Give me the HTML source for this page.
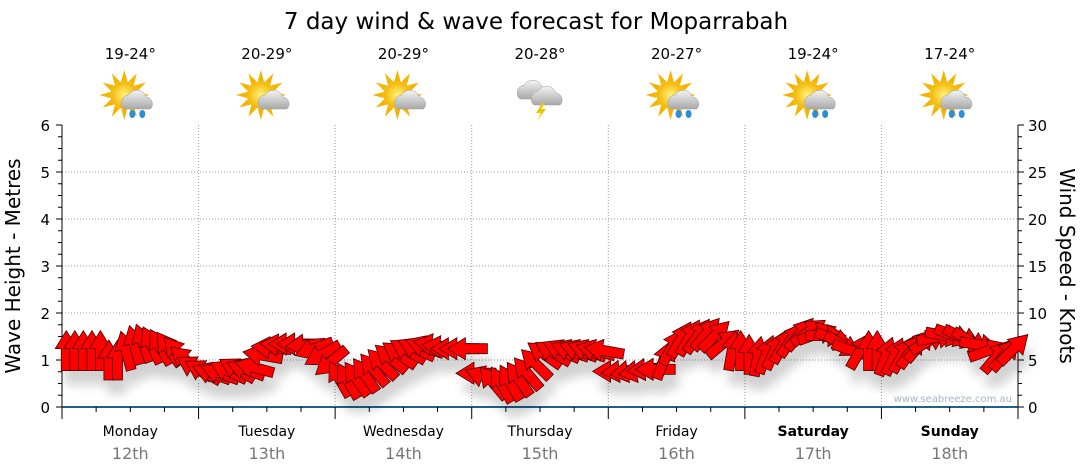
<!DOCTYPE html>
<html><head><meta charset="utf-8">
<style>
body{margin:0;background:#fff;font-family:"DejaVu Sans","Liberation Sans",sans-serif;}
svg{display:block}
</style></head>
<body>
<svg id="chart" width="1080" height="475" viewBox="0 0 1080 475" xmlns="http://www.w3.org/2000/svg" font-family="DejaVu Sans, Liberation Sans, sans-serif">
<defs>
<filter id="sh" x="-50%" y="-50%" width="200%" height="200%"><feGaussianBlur in="SourceAlpha" stdDeviation="5"/><feOffset dx="4" dy="14"/><feComponentTransfer><feFuncA type="linear" slope="0.18"/></feComponentTransfer><feMerge><feMergeNode/><feMergeNode in="SourceGraphic"/></feMerge></filter>
<radialGradient id="sun" cx="50%" cy="50%" r="50%"><stop offset="0" stop-color="#fff27a"/><stop offset="1" stop-color="#f2b400"/></radialGradient>
<linearGradient id="cloud" x1="0" y1="0" x2="0" y2="1"><stop offset="0" stop-color="#f4f4f4"/><stop offset="1" stop-color="#a8a8a8"/></linearGradient>
</defs>
<text x="536" y="29" font-size="23" text-anchor="middle" fill="#000">7 day wind &amp; wave forecast for Moparrabah</text>
<g id="grid"></g>
<g id="axes"></g>
<g id="icons"></g>
<g id="arrows" filter="url(#sh)"></g>
<text x="1012" y="402" font-size="10" fill="#a9b4c0" text-anchor="end">www.seabreeze.com.au</text>
<text transform="translate(20,266) rotate(-90)" font-size="20" text-anchor="middle">Wave Height - Metres</text>
<text transform="translate(1060,266) rotate(90)" font-size="20" text-anchor="middle">Wind Speed - Knots</text>
</svg>
<script>
const days = ["Monday","Tuesday","Wednesday","Thursday","Friday","Saturday","Sunday"];
const dates = ["12th","13th","14th","15th","16th","17th","18th"];
const temps = ["19-24°","20-29°","20-29°","20-28°","20-27°","19-24°","17-24°"];
const icons = ["sun-cloud-rain","sun-cloud","sun-cloud","storm","sun-cloud-rain","sun-cloud-rain","sun-cloud-rain"];
const waveTicks = [0,1,2,3,4,5,6];
const windTicks = [0,5,10,15,20,25,30];
const windSpeed = [
6,6,6,6,6,5,5,6,6.6,6.8,6.6,6.4,6.2,5.8,5,4.2,
3.8,3.6,3.6,3.8,4,4,4.2,5.5,6.3,6.6,6.7,6.7,6.6,6.2,5.6,4.8,
3,2.8,3,3.4,4,4.6,5.2,5.6,6,6.2,6.4,6.6,6.4,6.2,6.2,6.2,
3.6,3.2,2.6,2.4,2.6,3,3.6,4.6,5.6,5.8,6,6,6,6,6,6,
3.8,3.8,3.8,3.8,4,4,5,6.4,7.2,7.4,7.6,7.8,7.6,6.8,6,6,
5.6,5.4,5.6,6,6.6,7.2,7.8,8,7.8,7.6,7.2,6.6,6,6,6,6,
5.4,5.4,5.6,6,6.6,7,7.4,7.6,7.6,7.4,7,6.6,6,5.4,5.6,6.2];
const windDir = [
0,0,0,0,0,0,0,-15,-15,-20,-25,-30,-35,-40,-50,-60,
-60,-70,-70,-65,-60,-70,-75,-80,-85,-85,-90,-90,-95,-110,-120,-130,
-30,-30,-35,-35,-40,-45,-50,-55,-60,-65,-70,-80,-85,-90,-90,-90,
-90,-70,-40,-30,-30,-35,-40,-45,-55,-60,-65,-70,-70,-70,-75,-80,
-90,-95,-100,-100,-95,-90,20,30,30,30,35,40,45,50,10,0,
0,10,20,25,30,35,40,55,70,90,110,120,110,30,0,0,
20,25,30,35,40,60,80,100,110,115,120,100,70,40,40,45];

const NS="http://www.w3.org/2000/svg";
const X0=62,X1=1018,Y0=407,Y1=125;
const dayW=(X1-X0)/7;
const yWave=v=>Y0-(v/6)*(Y0-Y1);
const yWind=v=>Y0-(v/30)*(Y0-Y1);
const xIdx=i=>X0+(i+0.5)*(X1-X0)/windSpeed.length;
function mk(tag,attrs,parent){const e=document.createElementNS(NS,tag);for(const k in attrs)e.setAttribute(k,attrs[k]);parent.appendChild(e);return e;}
const grid=document.getElementById('grid'),axes=document.getElementById('axes'),ic=document.getElementById('icons'),ar=document.getElementById('arrows');
waveTicks.forEach(v=>{if(v>0&&v<6){const l=mk('line',{x1:X0,x2:X1,y1:yWave(v),y2:yWave(v),stroke:'#999','stroke-dasharray':'1,2'},grid);

}});
for(let d=1;d<7;d++){const l=mk('line',{x1:X0+d*dayW,x2:X0+d*dayW,y1:Y1,y2:Y0,stroke:'#999','stroke-dasharray':'1,2'},grid);

}
mk('line',{x1:X0,x2:X0,y1:Y1,y2:Y0,stroke:'#000'},axes);
mk('line',{x1:X1,x2:X1,y1:Y1,y2:Y0,stroke:'#000'},axes);
for(let k=0;k<=24;k++){const y=yWave(k/4);const len=k%4==0?6:4;
mk('line',{x1:X0-len,x2:X0,y1:y,y2:y,stroke:'#000'},axes);
mk('line',{x1:X1,x2:X1+len,y1:y,y2:y,stroke:'#000'},axes);}
waveTicks.forEach(v=>{const t=mk('text',{x:X0-12,y:yWave(v)+6,'font-size':15,'text-anchor':'end'},axes);t.textContent=v;

});
windTicks.forEach(v=>{const t=mk('text',{x:X1+10,y:yWind(v)+6,'font-size':15},axes);t.textContent=v;

});
mk('line',{x1:X0,x2:X1,y1:Y0,y2:Y0,stroke:'#1f5f8b','stroke-width':2},axes);
for(let q=0;q<=28;q++){const x=X0+q*dayW/4;const len=q%4==0?12:5;mk('line',{x1:x,x2:x,y1:Y0,y2:Y0+len,stroke:'#000'},axes);}
days.forEach((d,i)=>{const cx=X0+(i+0.5)*dayW;const we=i>=5;
const t=mk('text',{x:cx,y:436,'font-size':14,'text-anchor':'middle','font-weight':we?'bold':'normal'},axes);t.textContent=d;


const t2=mk('text',{x:cx,y:459,'font-size':16,'text-anchor':'middle',fill:'#777'},axes);t2.textContent=dates[i];


const t3=mk('text',{x:cx,y:59,'font-size':15,'text-anchor':'middle'},ic);t3.textContent=temps[i];


const g=mk('g',{transform:`translate(${cx},97)`},ic);


const type=icons[i];
if(type!=='storm'){
 for(let r=0;r<12;r++){mk('polygon',{points:'-3,-14 0,-25 3,-14',fill:'#f5b400',transform:`translate(-6,-2) rotate(${r*30})`},g);}
 mk('circle',{cx:-6,cy:-2,r:14,fill:'url(#sun)'},g);
 mk('path',{d:'M-6,12 a8,8 0 0 1 4,-14 a10,10 0 0 1 18,2 a7,7 0 0 1 4,12 z',fill:'url(#cloud)',stroke:'#999','stroke-width':0.5},g);
 if(type==='sun-cloud-rain'){mk('ellipse',{cx:2,cy:17,rx:3,ry:4,fill:'#2b8fd8'},g);mk('ellipse',{cx:12,cy:17,rx:3,ry:4,fill:'#2b8fd8'},g);}
}else{
 mk('path',{d:'M-20,2 a8,8 0 0 1 4,-14 a10,10 0 0 1 18,2 a7,7 0 0 1 4,12 z',fill:'url(#cloud)',stroke:'#999','stroke-width':0.5},g);
 mk('path',{d:'M-6,8 a8,8 0 0 1 4,-14 a10,10 0 0 1 18,2 a7,7 0 0 1 4,12 z',fill:'url(#cloud)',stroke:'#999','stroke-width':0.5},g);
 mk('polygon',{points:'2,6 -4,16 1,16 -3,24 6,12 1,12 5,6',fill:'#f5c400'},g);
}});
windSpeed.forEach((s,i)=>{const x=xIdx(i),y=yWind(s);
const p=mk('polygon',{points:'0,-20 11,-2 5,-2 5,20 -5,20 -5,-2 -11,-2',fill:'#ff0000',stroke:'#4a0000','stroke-width':0.8,transform:`translate(${x.toFixed(1)},${y.toFixed(1)}) rotate(${windDir[i]})`},ar);

});
</script>
</body></html>
